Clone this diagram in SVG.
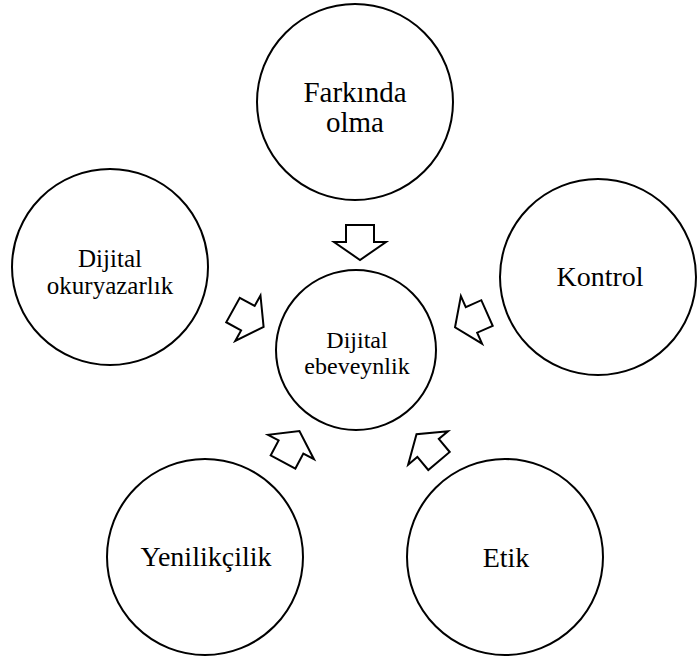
<svg xmlns="http://www.w3.org/2000/svg" xmlns:xlink="http://www.w3.org/1999/xlink" width="698" height="670" viewBox="0 0 698 670">
<style>
.c{fill:#fff;stroke:#000;stroke-width:2}
.t{font-family:"Liberation Serif","Times New Roman",serif;fill:#000;text-anchor:middle}
.a{fill:#fff;stroke:#000;stroke-width:2;stroke-linejoin:miter}
</style>
<defs>
<path id="arr" d="M0,-14 L17,-14 L17,-26 L35,0 L17,26 L17,14 L0,14 Z"/>
</defs>
<rect width="698" height="670" fill="#fff"/>
<g id="n-farkinda"><circle class="c" cx="355" cy="102" r="98"/><text class="t" font-size="29" x="355" y="102">Farkında</text><text class="t" font-size="29" x="355" y="132">olma</text></g>
<g id="n-okuryazarlik"><circle class="c" cx="110" cy="267" r="98"/><text class="t" font-size="25" x="110" y="267">Dijital</text><text class="t" font-size="25" x="110" y="294">okuryazarlık</text></g>
<g id="n-kontrol"><circle class="c" cx="598" cy="277" r="98"/><text class="t" font-size="28" x="600" y="286">Kontrol</text></g>
<g id="n-yenilikcilik"><circle class="c" cx="205" cy="557" r="98"/><text class="t" font-size="28" x="206" y="566">Yenilikçilik</text></g>
<g id="n-etik"><circle class="c" cx="505" cy="557" r="98"/><text class="t" font-size="28" x="506" y="567">Etik</text></g>
<g id="n-center"><circle class="c" cx="356" cy="350" r="80"/><text class="t" font-size="24" x="357" y="348">Dijital</text><text class="t" font-size="24" x="357" y="374">ebeveynlik</text></g>
<g id="connectors">
<use xlink:href="#arr" class="a" transform="translate(360,225) rotate(90)"/>
<use xlink:href="#arr" class="a" transform="translate(233,310) rotate(29)"/>
<use xlink:href="#arr" class="a" transform="translate(487,313) rotate(156)"/>
<use xlink:href="#arr" class="a" transform="translate(283,462) rotate(-62)"/>
<use xlink:href="#arr" class="a" transform="translate(439,461) rotate(-130)"/>
</g>
</svg>
